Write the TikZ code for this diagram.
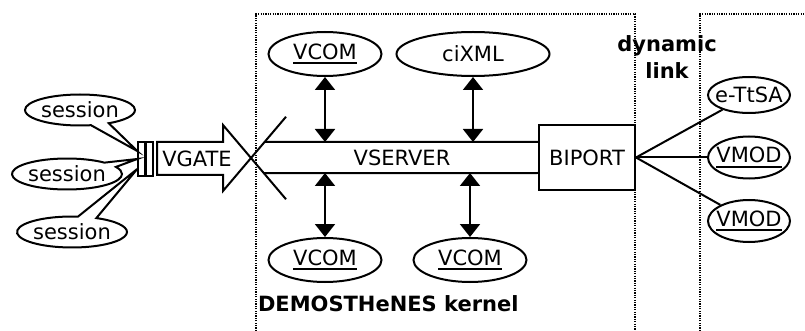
\documentclass[tikz,border=0pt]{standalone}
\usepackage{fontspec}
\setmainfont{DejaVu Sans}
\usetikzlibrary{arrows.meta, positioning, calc, shapes.geometric, shapes.callouts}

% underlined module names
\newsavebox\ulsave
\newcommand{\ulbox}[1]{\sbox\ulsave{#1}\rlap{\rule[-4.6pt]{\wd\ulsave}{2pt}}\usebox\ulsave}

\begin{document}
\begin{tikzpicture}[
    x=1pt, y=-1pt,
    font=\fontsize{21}{27}\selectfont,
    line width=2pt,
    % Shape Styles
    module/.style={
        ellipse, draw, inner sep=0pt, minimum width=113pt, minimum height=44pt
    },
    plugin/.style={module, inner xsep=-12pt, minimum width=82pt, minimum height=42pt},
    session/.style={
        ellipse callout, draw, inner sep=0pt, minimum width=110pt, minimum height=31pt,
        callout pointer arc=20
    },
    portBox/.style={rectangle, draw, inner sep=0pt, minimum width=96pt, minimum height=64pt},
    plug/.style={rectangle, draw, line width=1.5pt, inner sep=0pt, minimum width=7pt, minimum height=34pt},
    % Frame Style
    kernelFrame/.style={line width=1.2pt, dash pattern=on 1.2pt off 1.2pt},
    heading/.style={font=\fontsize{21}{27}\selectfont\bfseries, inner sep=0pt},
    % Arrow Style
    callArrow/.style={{Triangle[width=20pt,length=13pt]}-{Triangle[width=20pt,length=13pt]}}
]
    \useasboundingbox (0,0) rectangle (805,331);

    % --- FRAMES ---
    \draw[kernelFrame] (256,331) -- (256,14) -- (635,14) -- (635,331);
    \draw[kernelFrame] (700,331) -- (700,14) -- (805,14);
    \node[heading, anchor=base west] (kernelLabel) at (257,311) {DEMOSTHeNES kernel};
    \node[heading, align=center, anchor=north] (linkLabel) at (667,35) {dynamic\\link};

    % --- KERNEL MODULES ---
    \node[module] (vcomA) at (325,54) {\ulbox{VCOM}};
    \node[module, minimum width=153pt] (cixml) at (473,54) {ciXML};
    \node[module] (vcomB) at (325,260) {\ulbox{VCOM}};
    \node[module] (vcomC) at (470,260) {\ulbox{VCOM}};

    % --- VSERVER BUS ---
    \node[portBox] (biport) at (587,157.5) {BIPORT};
    \node[inner sep=0pt] (vserver) at (402,158) {VSERVER};
    \coordinate (tip) at (251,158);
    \coordinate (sockUp) at ($(tip)!-1.25!(223,191)$);
    \coordinate (sockDown) at ($(tip)!-1.25!(223,125)$);
    \coordinate (bandTop) at (0,142);
    \coordinate (bandBot) at (0,173);
    \draw (sockUp) -- (tip) -- (sockDown);
    \draw ($(tip)!0.39!(sockUp)$) -- ([yshift=15.5pt]biport.west);
    \draw ($(tip)!0.366!(sockDown)$) -- ([yshift=-15.5pt]biport.west);

    % --- VGATE ---
    \draw[fill=white] (157,142) -- (223,142) -- (223,125) -- (tip)
        -- (223,191) -- (223,175) -- (157,175) -- cycle;
    \node[inner sep=0pt] (vgate) at (197,159) {VGATE};
    \node[plug] (plugA) at (141.5,159) {};
    \node[plug] (plugB) at (149.5,159) {};

    % --- SESSIONS ---
    \node[session, callout absolute pointer={([yshift=8pt]plugA.west)}] (sessA) at (80,110) {session};
    \node[session, callout absolute pointer={(plugA.west)}] (sessB) at (67,174) {session};
    \node[session, callout absolute pointer={([yshift=-10pt]plugA.west)}] (sessC) at (72,232) {session};

    % --- DYNAMIC MODULES ---
    \node[plugin, minimum height=36pt] (ettsa) at (749,95) {e-TtSA};
    \node[plugin] (vmodA) at (749,157.5) {\ulbox{VMOD}};
    \node[plugin] (vmodB) at (749,221) {\ulbox{VMOD}};

    % --- ARROWS ---
    \draw[callArrow] (vcomA.south) -- (vcomA.south |- bandTop);
    \draw[callArrow] (cixml.south) -- (cixml.south |- bandTop);
    \draw[callArrow] (vcomB.north) -- (vcomB.north |- bandBot);
    \draw[callArrow] (vcomC.north) -- (vcomC.north |- bandBot);

    % links out of BIPORT
    \foreach \m in {ettsa, vmodA, vmodB} {
        \draw (biport.east) -- (\m);
    }

\end{tikzpicture}
\end{document}
